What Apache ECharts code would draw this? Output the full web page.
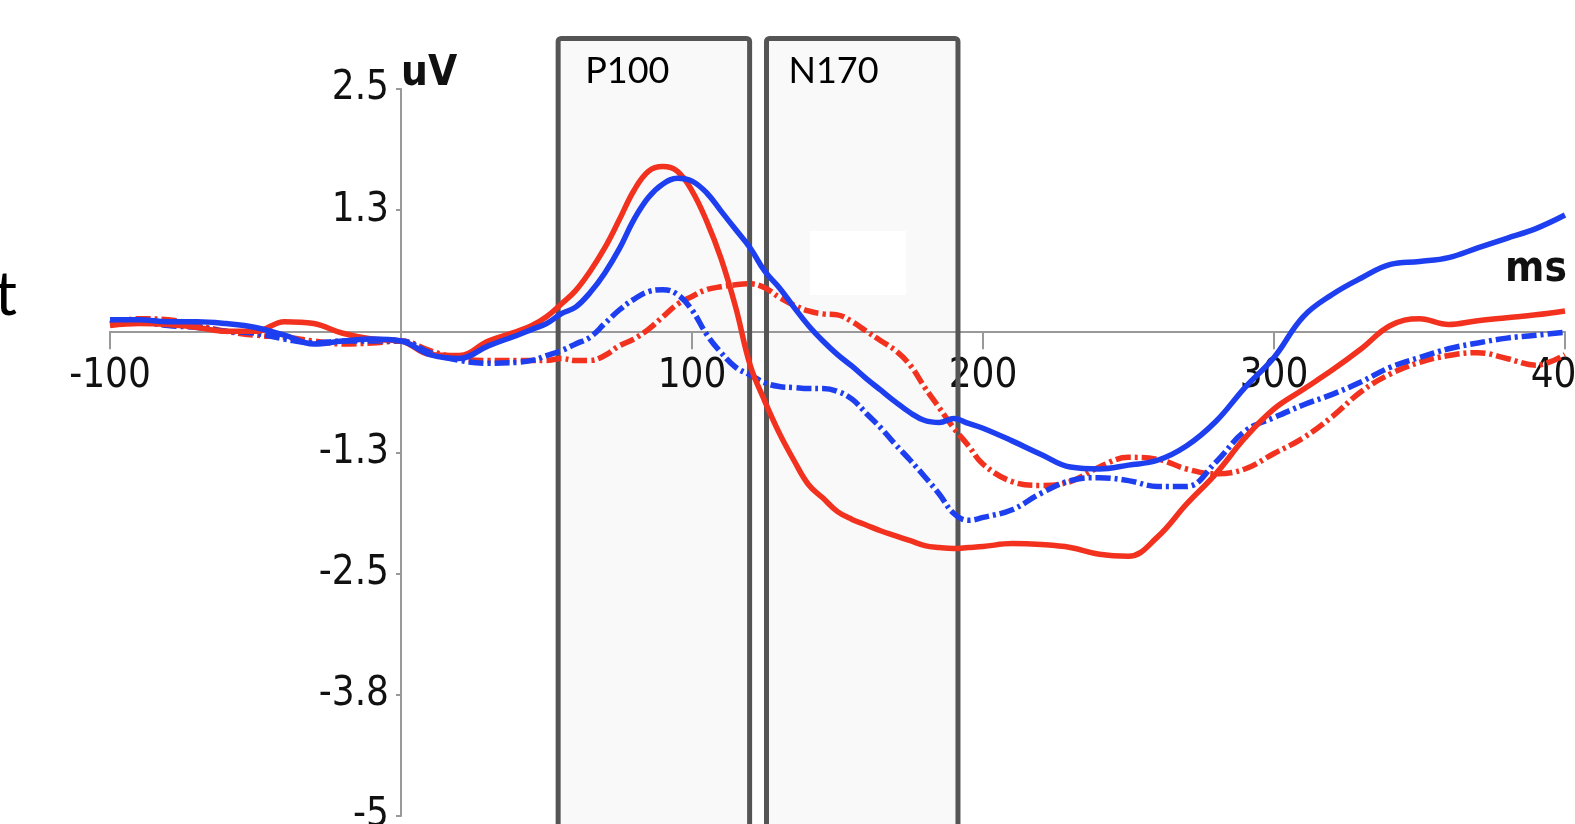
<!DOCTYPE html>
<html>
<head>
<meta charset="utf-8">
<script src="https://cdn.jsdelivr.net/npm/echarts@6/dist/echarts.min.js"></script>
<style>
html,body{margin:0;padding:0;background:#fff;}
#c{width:1575px;height:824px;}
</style>
</head>
<body>
<div id="c"></div>
<script>
// ---- data (ms, uV) ----
const times = [-100,-90,-80,-70,-60,-50,-40,-30,-20,-10,0,10,20,30,
  40,45,50,55,60,65,70,75,80,85,90,95,100,105,110,115,120,125,130,135,140,145,150,155,160,165,170,175,180,185,190,195,200,
  210,220,230,240,250,260,270,280,290,300,310,320,330,340,350,360,370,380,390,400];
const redSolid = [0.06,0.08,0.07,0.04,0.00,0.00,0.10,0.08,-0.02,-0.08,-0.10,-0.24,-0.25,-0.10,
  0.00,0.06,0.15,0.28,0.42,0.62,0.86,1.15,1.45,1.65,1.70,1.65,1.45,1.14,0.75,0.25,-0.35,-0.72,-1.05,-1.33,-1.58,-1.72,-1.86,-1.94,-2.00,-2.06,-2.11,-2.16,-2.21,-2.23,-2.24,-2.23,-2.22,
  -2.19,-2.20,-2.23,-2.30,-2.32,-2.12,-1.78,-1.47,-1.10,-0.80,-0.60,-0.40,-0.18,0.06,0.13,0.07,0.11,0.14,0.17,0.21];
const blueSolid = [0.12,0.12,0.10,0.10,0.08,0.04,-0.04,-0.13,-0.10,-0.08,-0.10,-0.24,-0.28,-0.15,
  -0.04,0.02,0.08,0.18,0.25,0.40,0.60,0.85,1.15,1.38,1.52,1.58,1.55,1.43,1.24,1.05,0.86,0.62,0.45,0.25,0.06,-0.10,-0.24,-0.36,-0.49,-0.61,-0.73,-0.84,-0.92,-0.94,-0.90,-0.95,-1.00,
  -1.13,-1.27,-1.40,-1.42,-1.38,-1.33,-1.18,-0.93,-0.58,-0.27,0.15,0.38,0.55,0.69,0.72,0.76,0.86,0.96,1.06,1.20];
const redDash = [0.08,0.13,0.12,0.06,0.00,-0.04,-0.06,-0.10,-0.13,-0.12,-0.10,-0.20,-0.28,-0.30,
  -0.30,-0.30,-0.30,-0.28,-0.30,-0.30,-0.25,-0.15,-0.08,0.02,0.15,0.28,0.36,0.43,0.46,0.48,0.49,0.45,0.35,0.27,0.21,0.18,0.17,0.10,0.00,-0.10,-0.20,-0.35,-0.58,-0.79,-1.00,-1.18,-1.37,
  -1.55,-1.59,-1.55,-1.40,-1.30,-1.32,-1.42,-1.47,-1.42,-1.26,-1.10,-0.88,-0.62,-0.44,-0.32,-0.25,-0.22,-0.28,-0.35,-0.24];
const blueDash = [0.12,0.10,0.06,0.04,0.00,-0.02,-0.08,-0.12,-0.10,-0.10,-0.10,-0.22,-0.30,-0.33,
  -0.32,-0.30,-0.25,-0.20,-0.13,-0.06,0.08,0.22,0.33,0.41,0.43,0.38,0.22,-0.03,-0.22,-0.37,-0.45,-0.53,-0.57,-0.58,-0.59,-0.59,-0.62,-0.70,-0.85,-1.00,-1.17,-1.33,-1.50,-1.68,-1.88,-1.95,-1.92,
  -1.84,-1.67,-1.54,-1.51,-1.54,-1.60,-1.60,-1.35,-1.03,-0.89,-0.76,-0.65,-0.52,-0.37,-0.27,-0.18,-0.12,-0.07,-0.04,-0.01];
const yTickValues = [2.5, 1.25, 0, -1.25, -2.5, -3.75, -5];
const yTickLabels = ['2.5', '1.3', '', '-1.3', '-2.5', '-3.8', '-5'];
const windowNames = ['P100', 'N170'];
const windowStart = [54, 125.6];
const windowEnd = [119.8, 191.4];

const RED = '#f2321e', BLUE = '#1d3ff0';
const NARROW = '"Liberation Sans Narrow", "DejaVu Sans Condensed", sans-serif';
const pair = arr => times.map((t, i) => [t, arr[i]]);

const chart = echarts.init(document.getElementById('c'), null, {renderer: 'canvas'});
const dashPattern = [15, 4, 3, 4];
function line(name, arr, color, dashed) {
  return {
    name, type: 'line', data: pair(arr), smooth: 0.4, symbol: 'none', z: 5,
    lineStyle: {color, width: 5.5, type: dashed ? dashPattern : 'solid', cap: 'butt'}
  };
}
chart.setOption({
  animation: false,
  backgroundColor: '#fff',
  grid: {left: 110, right: 10, top: 89, bottom: 8, containLabel: false, outerBoundsMode: 'none'},
  xAxis: {
    type: 'value', min: -100, max: 400, interval: 100, z: 1, position: 'bottom', offset: 0,
    name: 'ms', nameLocation: 'end', nameGap: -60,
    nameTextStyle: {fontFamily: NARROW, fontWeight: 'bold', fontSize: 42, color: '#111', align: 'left', verticalAlign: 'bottom', padding: [0, 0, 40, 0]},
    axisLine: {onZero: false, lineStyle: {color: '#999', width: 2}},
    axisTick: {show: true, length: 18, lineStyle: {color: '#999', width: 2}},
    axisLabel: {margin: 25, fontFamily: NARROW, fontSize: 40, color: '#111', formatter: v => v === 0 ? '' : String(v)},
    splitLine: {show: false}
  },
  yAxis: {
    type: 'value', min: -5, max: 2.5, interval: 1.25, z: 1, position: 'left', offset: 0,
    name: 'uV', nameLocation: 'end', nameGap: -6,
    nameTextStyle: {fontFamily: NARROW, fontWeight: 'bold', fontSize: 42, color: '#111', align: 'left', verticalAlign: 'bottom'},
    axisLine: {onZero: false, lineStyle: {color: '#999', width: 2}},
    axisTick: {show: true, length: 5, lineStyle: {color: '#999', width: 2}},
    axisLabel: {margin: 12, fontFamily: NARROW, fontSize: 40, color: '#111',
      formatter: v => { const i = yTickValues.findIndex(t => Math.abs(t - v) < 1e-6); return i >= 0 ? yTickLabels[i] : ''; }},
    splitLine: {show: false}
  },
  series: [
    line('red dashed', redDash, RED, true),
    line('blue dashed', blueDash, BLUE, true),
    line('red solid', redSolid, RED, false),
    line('blue solid', blueSolid, BLUE, false)
  ]
});

// move both axes onto the zero lines of the other axis
const gridRect = chart.getModel().getComponent('grid', 0).coordinateSystem.getRect();
const zeroX = chart.convertToPixel({xAxisIndex: 0}, 0);
const zeroY = chart.convertToPixel({yAxisIndex: 0}, 0);
chart.setOption({
  yAxis: {offset: -(zeroX - gridRect.x)},
  xAxis: {offset: -(gridRect.y + gridRect.height - zeroY)}
});

// annotation windows
const BOX_TOP = 38.5;
const els = [];
windowNames.forEach((nm, i) => {
  const x1 = chart.convertToPixel({xAxisIndex: 0}, windowStart[i]);
  const x2 = chart.convertToPixel({xAxisIndex: 0}, windowEnd[i]);
  els.push({type: 'rect', z: 0, silent: true, shape: {x: x1, y: BOX_TOP, width: x2 - x1, height: 900, r: 3},
    style: {fill: '#f9f9f9', stroke: null}});
  els.push({type: 'rect', z: 2, silent: true, shape: {x: x1, y: BOX_TOP, width: x2 - x1, height: 900, r: 3},
    style: {fill: null, stroke: '#555', lineWidth: 5}});
  els.push({type: 'text', z: 3, silent: true, x: x1 + (i === 0 ? 27 : 22), y: 89,
    style: {text: nm, fontFamily: 'Lato, "Open Sans", sans-serif', fontSize: 36, fill: '#000', textVerticalAlign: 'bottom'}});
});
// blank patch inside second window
{
  const xa = chart.convertToPixel({xAxisIndex: 0}, 140.5);
  const xb = chart.convertToPixel({xAxisIndex: 0}, 173.5);
  els.push({type: 'rect', z: 1, silent: true, shape: {x: xa, y: 231, width: xb - xa, height: 64}, style: {fill: '#fff'}});
}
// cut-off text at left edge
els.push({type: 'text', z: 3, silent: true, x: 17, y: 326,
  style: {text: 't', fontFamily: 'Lato, "Open Sans", sans-serif', fontSize: 62, fill: '#000', textAlign: 'right', textVerticalAlign: 'bottom'}});
chart.setOption({graphic: {elements: els}});
</script>
</body>
</html>
